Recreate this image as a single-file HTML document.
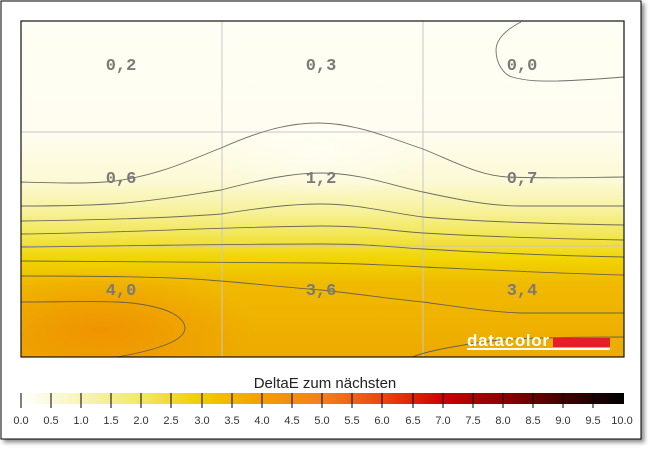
<!DOCTYPE html>
<html><head><meta charset="utf-8"><style>
body{margin:0;background:#fff;width:650px;height:450px;overflow:hidden}
</style></head><body>
<svg width="650" height="450" xmlns="http://www.w3.org/2000/svg">
<defs>
<linearGradient id="bg" x1="0" y1="21" x2="0" y2="357" gradientUnits="userSpaceOnUse">
<stop offset="0" stop-color="#fffef4"/>
<stop offset="0.33" stop-color="#fffdf0"/>
<stop offset="0.48" stop-color="#fcf9d4"/>
<stop offset="0.56" stop-color="#f7f2a0"/>
<stop offset="0.64" stop-color="#f2e650"/>
<stop offset="0.71" stop-color="#f1d400"/>
<stop offset="0.78" stop-color="#f0ba00"/>
<stop offset="1" stop-color="#eeaa00"/>
</linearGradient>
<radialGradient id="rg" cx="100" cy="330" r="120" gradientUnits="userSpaceOnUse" gradientTransform="translate(100 330) scale(1.3 0.5) translate(-100 -330)">
<stop offset="0" stop-color="#ef9000" stop-opacity="0.9"/>
<stop offset="1" stop-color="#ef9000" stop-opacity="0"/>
</radialGradient>
<radialGradient id="wg" cx="321" cy="150" r="120" gradientUnits="userSpaceOnUse" gradientTransform="translate(321 150) scale(1 0.4) translate(-321 -150)">
<stop offset="0" stop-color="#fffef4" stop-opacity="0.8"/>
<stop offset="1" stop-color="#fffef4" stop-opacity="0"/>
</radialGradient>
<linearGradient id="cb" x1="21" x2="624" y1="0" y2="0" gradientUnits="userSpaceOnUse">
<stop offset="0" stop-color="#ffffff"/>
<stop offset="0.1" stop-color="#f8f4b8"/>
<stop offset="0.2" stop-color="#f2e868"/>
<stop offset="0.3" stop-color="#f0cc00"/>
<stop offset="0.4" stop-color="#f0a000"/>
<stop offset="0.5" stop-color="#f08020"/>
<stop offset="0.6" stop-color="#ee4412"/>
<stop offset="0.7" stop-color="#cc0000"/>
<stop offset="0.8" stop-color="#8c0000"/>
<stop offset="0.9" stop-color="#400000"/>
<stop offset="1" stop-color="#000000"/>
</linearGradient>
<filter id="sh"><feDropShadow dx="3" dy="3" stdDeviation="2" flood-color="#000" flood-opacity="0.45"/></filter>
</defs>
<rect x="1" y="1" width="640" height="438" fill="#fff" stroke="#000" stroke-width="1" filter="url(#sh)"/>
<rect x="21" y="21" width="603" height="336" fill="url(#bg)"/>
<rect x="21" y="21" width="603" height="336" fill="url(#rg)"/>
<rect x="21" y="21" width="603" height="336" fill="url(#wg)"/>
<g stroke="#c8c8c8" stroke-width="1">
<line x1="222" y1="21" x2="222" y2="357"/><line x1="423" y1="21" x2="423" y2="357"/>
<line x1="21" y1="132" x2="624" y2="132"/><line x1="21" y1="246" x2="624" y2="246"/>
</g>
<g fill="none" stroke="#555" stroke-width="0.9" opacity="0.85">
<path d="M21,182 C60,183 90,184 115,181 C160,175 190,160 221,148 C255,133 285,123 318,123 C355,123 390,138 423,149 C455,162 480,176 508,177 C560,179 600,177 624,177"/>
<path d="M21,206 C70,206 100,205 125,203 C170,199 200,193 221,190 C260,180 290,173 321,173 C360,173 390,185 423,192 C460,200 490,206 521,206 L624,206"/>
<path d="M21,221 C100,220 170,218 221,214 C260,208 290,204 321,204 C360,204 390,213 423,217 C480,222 560,224 624,225"/>
<path d="M21,234 C120,233 220,227 321,226 C370,226 390,231 423,233 C490,237 570,239 624,240"/>
<path d="M21,247 C120,246 220,244 321,244 C370,244 390,247 423,249 C490,253 570,256 624,257"/>
<path d="M21,261 C120,261 220,262 321,263 C370,264 390,265 423,267 C490,270 570,274 624,275"/>
<path d="M21,276 C100,276 170,277 208,280 C250,283 290,288 321,290 C360,294 390,299 423,302 C460,307 490,312 521,313 L624,313"/>
<path d="M21,302 C60,302 90,301 117,302 C140,303 160,307 172,313 C185,320 188,328 182,335 C172,346 140,353 117,357"/>
<path d="M412,357 C425,352 440,349 458,346 C490,340 520,338 542,338 C580,337 610,337 624,337"/>
<path d="M521,22 C505,30 496,40 496,50 C496,65 505,75 512,77 C530,82 545,81 558,81 C590,80 610,78 624,77"/>
</g>
<rect x="21" y="21" width="603" height="336" fill="none" stroke="#111" stroke-width="1.2"/>
<g font-family="Liberation Mono, monospace" font-weight="bold" font-size="17" fill="#7a7a7a" text-anchor="middle">
<text x="121" y="70">0,2</text><text x="321" y="70">0,3</text><text x="522" y="70">0,0</text>
<text x="121" y="183">0,6</text><text x="321" y="183">1,2</text><text x="522" y="183">0,7</text>
<text x="121" y="295">4,0</text><text x="321" y="295">3,6</text><text x="522" y="295">3,4</text>
</g>
<text x="467" y="346" font-family="Liberation Sans, sans-serif" font-weight="bold" font-size="17" fill="#fff" textLength="82">datacolor</text>
<rect x="553" y="338" width="57" height="9" fill="#e3202a"/>
<rect x="467" y="348" width="143" height="2" fill="#fff"/>
<text x="325" y="388" font-family="Liberation Sans, sans-serif" font-size="15" fill="#222" text-anchor="middle">DeltaE zum nächsten</text>
<rect x="21" y="393" width="603" height="11" fill="url(#cb)"/>
<g stroke="#000" stroke-width="1">
<line x1="21" y1="393" x2="21" y2="408"/><line x1="51" y1="393" x2="51" y2="408"/><line x1="81" y1="393" x2="81" y2="408"/><line x1="111" y1="393" x2="111" y2="408"/><line x1="141" y1="393" x2="141" y2="408"/><line x1="171" y1="393" x2="171" y2="408"/><line x1="202" y1="393" x2="202" y2="408"/><line x1="232" y1="393" x2="232" y2="408"/><line x1="262" y1="393" x2="262" y2="408"/><line x1="292" y1="393" x2="292" y2="408"/><line x1="322" y1="393" x2="322" y2="408"/><line x1="352" y1="393" x2="352" y2="408"/><line x1="382" y1="393" x2="382" y2="408"/><line x1="413" y1="393" x2="413" y2="408"/><line x1="443" y1="393" x2="443" y2="408"/><line x1="473" y1="393" x2="473" y2="408"/><line x1="503" y1="393" x2="503" y2="408"/><line x1="533" y1="393" x2="533" y2="408"/><line x1="563" y1="393" x2="563" y2="408"/><line x1="593" y1="393" x2="593" y2="408"/>
</g>
<g font-family="Liberation Sans, sans-serif" font-size="11" fill="#333" text-anchor="middle">
<text x="21" y="424">0.0</text><text x="51" y="424">0.5</text><text x="81" y="424">1.0</text><text x="111" y="424">1.5</text><text x="141" y="424">2.0</text><text x="171" y="424">2.5</text><text x="202" y="424">3.0</text><text x="232" y="424">3.5</text><text x="262" y="424">4.0</text><text x="292" y="424">4.5</text><text x="322" y="424">5.0</text><text x="352" y="424">5.5</text><text x="382" y="424">6.0</text><text x="413" y="424">6.5</text><text x="443" y="424">7.0</text><text x="473" y="424">7.5</text><text x="503" y="424">8.0</text><text x="533" y="424">8.5</text><text x="563" y="424">9.0</text><text x="593" y="424">9.5</text><text x="622" y="424">10.0</text>
</g>
</svg>
</body></html>
